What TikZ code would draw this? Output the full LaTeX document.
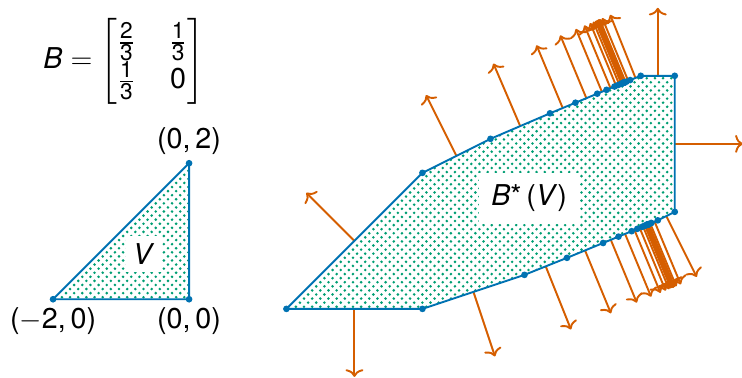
\documentclass[tikz,border=0pt]{standalone}
\usepackage{amsmath}
\usepackage{fontspec}
\setmainfont{TeX Gyre Heros}
\usetikzlibrary{arrows.meta}

\definecolor{cbblue}{RGB}{0,114,178}
\definecolor{cborange}{RGB}{213,94,0}
\definecolor{cbgreen}{RGB}{0,158,115}

\def\nterms{14}
\newcounter{nedge}
\newcommand\val[2]{\csname#1#2\endcsname}
% one edge of B*(V): direction (scaled by lambda^-k) and factor lambda^k
\newcommand\putedge[3]{%
  \pgfmathsetmacro\edgx{#1}\pgfmathsetmacro\edgy{#2}%
  \stepcounter{nedge}%
  \expandafter\xdef\csname ex\arabic{nedge}\endcsname{\edgx}%
  \expandafter\xdef\csname ey\arabic{nedge}\endcsname{\edgy}%
  \expandafter\xdef\csname ef\arabic{nedge}\endcsname{#3}}
\newcommand\sfr[2]{\frac{\mbox{\fontsize{9.5}{10}\selectfont#1}}{\mbox{\fontsize{9.5}{10}\selectfont#2}}}

\begin{document}
\begin{tikzpicture}[line join=round,
  font=\fontsize{12}{14.4}\selectfont,
  edge/.style={cbblue,line width=0.8pt},
  vert/.style={cbblue,fill=cbblue},
  normal/.style={cborange,line width=0.8pt,-{To[length=3.2pt,width=7.5pt]}},
  lbl/.style={fill=white,inner sep=3pt}]
\useasboundingbox (-2.78,-1.15) rectangle (8.13,4.40);
%------------- the matrix
\node (mat) at (-0.96,3.50) {\setlength\arraycolsep{7pt}%
  $\mathit{B}=\begin{bmatrix}\sfr{2}{3}&\sfr{1}{3}\\\sfr{1}{3}&\mbox{0}\end{bmatrix}$};
%------------- V
\coordinate (p0) at (0,0); \coordinate (p1) at (0,2); \coordinate (p2) at (-2,0);
\begin{scope}
\clip (p0) -- (p1) -- (p2) -- cycle;
\fill[cbgreen] \foreach \r in {0,...,35}{\foreach \c in {0,...,18}{
  ({-2.05+\c*0.12+mod(\r,2)*0.06},{-0.03+\r*0.06}) circle (0.6pt)}};
\end{scope}
\draw[edge] (p0) -- (p1) -- (p2) -- cycle;
\foreach \p in {p0,p1,p2} \fill[vert] (\p) circle (1.4pt);
\node[lbl] (lv) at (-2/3,2/3) {\textit{V}};
\node[above] (l1) at (p1) {(0,\,2)};
\node[below] (l0) at (p0) {(0,\,0)};
\node[below] (l2) at (p2) {($-$2,\,0)};
%------------- B*(V) = V + MV + M^2V + ..., M = 3/4 B
\begin{scope}[shift={(6,1)}]
% a_k = M^k(-2,0), b_k = M^k(0,2), kept as lambda^-k a_k, lambda = (1+sqrt2)/4
\xdef\cax{-2}\xdef\cay{0}\xdef\cbx{0}\xdef\cby{2}\xdef\cfac{1}
\xdef\sumx{0}\xdef\sumy{0}
\foreach \k in {0,...,\nterms}{
  \expandafter\xdef\csname ax\k\endcsname{\cax}
  \expandafter\xdef\csname ay\k\endcsname{\cay}
  \expandafter\xdef\csname bx\k\endcsname{\cbx}
  \expandafter\xdef\csname by\k\endcsname{\cby}
  \expandafter\xdef\csname fk\k\endcsname{\cfac}
  \pgfmathsetmacro\tmpa{\sumx+\cfac*\cax}\pgfmathsetmacro\tmpb{\sumy+\cfac*\cay}
  \xdef\sumx{\tmpa}\xdef\sumy{\tmpb}
  \pgfmathsetmacro\tmpa{0.828427*\cax+0.414214*\cay}\pgfmathsetmacro\tmpb{0.414214*\cax}
  \xdef\cax{\tmpa}\xdef\cay{\tmpb}
  \pgfmathsetmacro\tmpa{0.828427*\cbx+0.414214*\cby}\pgfmathsetmacro\tmpb{0.414214*\cbx}
  \xdef\cbx{\tmpa}\xdef\cby{\tmpb}
  \pgfmathsetmacro\tmpa{0.603553*\cfac}\xdef\cfac{\tmpa}
}
% edges in counterclockwise order, from the lowest left corner
\putedge{2}{0}{1}
\foreach \k in {1,...,\nterms}{
  \ifodd\k \putedge{\val{bx}{\k}-(\val{ax}{\k})}{\val{by}{\k}-(\val{ay}{\k})}{\val{fk}{\k}}
  \else \putedge{-(\val{ax}{\k})}{-(\val{ay}{\k})}{\val{fk}{\k}}\fi}
\foreach \j in {1,...,\nterms}{
  \pgfmathtruncatemacro\k{\nterms+1-\j}
  \ifodd\k\else \putedge{\val{bx}{\k}}{\val{by}{\k}}{\val{fk}{\k}}\fi}
\putedge{0}{2}{1}
\foreach \k in {1,...,\nterms}{
  \ifodd\k \putedge{-(\val{bx}{\k})}{-(\val{by}{\k})}{\val{fk}{\k}}\fi}
\foreach \j in {1,...,\nterms}{
  \pgfmathtruncatemacro\k{\nterms+1-\j}
  \ifodd\k \putedge{\val{ax}{\k}}{\val{ay}{\k}}{\val{fk}{\k}}
  \else \putedge{\val{ax}{\k}-(\val{bx}{\k})}{\val{ay}{\k}-(\val{by}{\k})}{\val{fk}{\k}}\fi}
\putedge{-2}{-2}{1}
\xdef\nedges{\arabic{nedge}}
% corners v, edge midpoints m, normal tips t
\xdef\curx{\sumx}\xdef\cury{\sumy}
\coordinate (v0) at (\sumx,\sumy);
\foreach \i in {1,...,\nedges}{
  \pgfmathsetmacro\midx{\curx+0.5*\val{ef}{\i}*\val{ex}{\i}}
  \pgfmathsetmacro\midy{\cury+0.5*\val{ef}{\i}*\val{ey}{\i}}
  \pgfmathsetmacro\elen{veclen(\val{ex}{\i},\val{ey}{\i})}
  \pgfmathsetmacro\tipx{\midx+\val{ey}{\i}/\elen}
  \pgfmathsetmacro\tipy{\midy-\val{ex}{\i}/\elen}
  \pgfmathsetmacro\newx{\curx+\val{ef}{\i}*\val{ex}{\i}}
  \pgfmathsetmacro\newy{\cury+\val{ef}{\i}*\val{ey}{\i}}
  \coordinate (m\i) at (\midx,\midy);
  \coordinate (t\i) at (\tipx,\tipy);
  \coordinate (v\i) at (\newx,\newy);
  \xdef\curx{\newx}\xdef\cury{\newy}
}
\begin{scope}
\clip (v0) \foreach \i in {1,...,\nedges}{ -- (v\i)} -- cycle;
\fill[cbgreen] \foreach \r in {0,...,58}{\foreach \c in {0,...,48}{
  ({-4.61+\c*0.12+mod(\r,2)*0.06},{-1.17+\r*0.06}) circle (0.6pt)}};
\end{scope}
\foreach \i in {1,...,\nedges} \draw[normal] (m\i) -- (t\i);
\draw[edge] (v0) \foreach \i in {1,...,\nedges}{ -- (v\i)} -- cycle;
\foreach \i in {1,...,\nedges} \fill[vert] (v\i) circle (1.4pt);
\node[lbl,inner sep=5pt] (lb) at (-1,0.48) {\textit{B}*\,(\textit{V})};
\end{scope}
\end{tikzpicture}
\end{document}
